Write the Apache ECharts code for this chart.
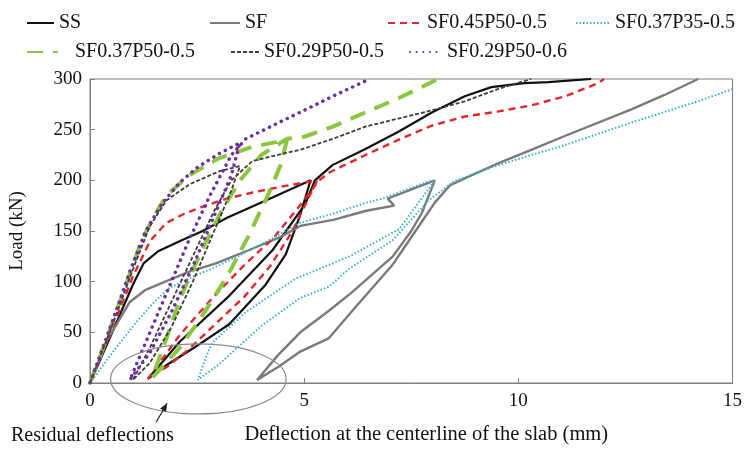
<!DOCTYPE html>
<html>
<head>
<meta charset="utf-8">
<script src="https://cdn.jsdelivr.net/npm/echarts@6/dist/echarts.min.js"></script>
<style>
  html, body { margin: 0; padding: 0; background: #fff; }
  #chart { width: 745px; height: 450px; }
</style>
</head>
<body>
<div id="chart"></div>
<script>
// deflection (mm), load (kN) pairs
const ssCurve = [
  [0, 0], [0.5, 48], [1.0, 97], [1.25, 118], [1.59, 130], [2.09, 140], [2.63, 150], [3.2, 163], [4.26, 183], [5.15, 200],
  [4.9, 165], [4.57, 127], [4.1, 97], [3.25, 58], [2.4, 34], [1.8, 18], [1.35, 4],
  [2.1, 41], [3.25, 86], [4.26, 131], [5.03, 177], [5.25, 200],
  [5.66, 215], [6.43, 231], [7.2, 248], [7.98, 267], [8.75, 283], [9.37, 292], [10.14, 296], [10.7, 297], [11.7, 300]
]
const sfCurve = [
  [0, 0], [0.4, 42], [0.93, 80], [1.3, 92], [1.7, 99], [2.32, 110], [2.94, 118], [3.7, 131], [4.44, 144], [4.91, 155],
  [5.68, 161], [6.45, 170], [7.1, 175], [6.95, 182], [8.05, 200],
  [7.75, 168], [7.5, 150], [7.07, 125], [6.1, 89], [5.57, 71], [4.91, 50], [4.4, 28], [3.9, 3],
  [4.4, 16], [4.91, 31], [5.57, 44], [6.14, 72], [7.07, 117], [7.6, 150], [8.05, 178], [8.4, 195], [8.8, 203],
  [9.54, 217], [10.3, 230], [11.1, 244], [12.64, 270], [13.4, 284], [14.2, 300]
]
const sf045Curve = [
  [0, 0], [0.5, 52], [1.0, 105], [1.4, 140], [1.78, 158], [2.2, 167], [2.63, 174], [3.2, 182], [3.8, 188], [4.5, 194], [5.3, 200],
  [5.05, 178], [4.7, 148], [4.2, 115], [3.6, 85], [2.9, 57], [2.3, 33], [1.8, 16], [1.35, 4],
  [2.09, 47], [2.86, 84], [3.64, 118], [4.26, 142], [4.88, 174], [5.35, 200],
  [5.6, 208], [6.43, 225], [7.2, 240], [7.98, 254], [8.75, 263], [9.54, 268], [10.3, 274], [11.1, 283], [11.87, 296], [12.0, 300]
]
const sf037p35Curve = [
  [0, 0], [0.54, 31], [1.08, 60], [1.5, 80], [1.86, 94], [2.4, 105], [2.86, 113], [3.5, 126], [4.1, 139], [4.9, 158],
  [5.67, 167], [6.45, 178], [6.83, 182], [7.84, 198], [8.05, 200],
  [7.22, 152], [6.06, 125], [4.8, 103], [3.64, 70], [2.86, 40], [2.7, 25], [2.52, 3],
  [3.0, 18], [4.02, 57], [4.91, 84], [5.57, 95], [6.06, 113], [7.07, 141], [7.9, 180], [8.5, 199], [9.0, 207],
  [9.54, 215], [10.3, 225], [11.1, 235], [12.64, 257], [14.19, 278], [15, 290]
]
const sf037p50Curve = [
  [0, 0], [0.4, 45], [0.8, 92], [1.2, 140], [1.5, 165], [1.78, 185], [2.32, 205], [3.02, 222], [3.79, 233], [4.6, 240],
  [4.45, 215], [4.15, 185], [3.7, 145], [3.2, 105], [2.6, 65], [2.1, 35], [1.45, 5],
  [1.75, 40], [2.15, 88], [2.6, 130], [3.05, 168], [3.5, 200], [4.0, 225], [4.6, 241],
  [5.0, 243], [5.67, 253], [6.43, 267], [7.2, 281], [8.13, 300]
]
const sf029p50Curve = [
  [0, 0], [0.5, 55], [1.0, 112], [1.4, 155], [1.78, 180], [2.32, 196], [3.02, 209], [3.5, 214],
  [3.3, 190], [2.9, 150], [2.4, 100], [1.9, 55], [1.4, 20], [1.0, 3],
  [1.4, 35], [1.9, 80], [2.4, 125], [2.9, 170], [3.3, 200], [3.79, 219], [4.57, 227], [4.9, 230],
  [5.67, 241], [6.43, 253], [7.2, 261], [7.98, 269], [8.75, 278], [9.52, 290], [10.14, 298], [10.3, 300]
]
const sf029p60Curve = [
  [0, 0], [0.5, 58], [0.93, 110], [1.3, 150], [1.7, 178], [2.1, 198], [2.48, 212], [3.0, 226], [3.5, 237],
  [3.3, 205], [2.9, 165], [2.4, 115], [1.9, 70], [1.4, 30], [0.93, 3],
  [1.3, 40], [1.8, 90], [2.3, 140], [2.8, 185], [3.3, 225], [3.64, 241], [4.41, 257], [5.19, 273],
  [5.67, 283], [6.43, 298], [6.5, 300]
]

const xTicks = [0, 5, 10, 15]
const yTicks = [0, 50, 100, 150, 200, 250, 300]

// annotation: ellipse round the residual points, in data units
const residualCenter = [2.53, 4]
const residualHalfWidth = 2.05
const residualArrowTip = [1.8, -20]

const FONT = '"Liberation Serif", "DejaVu Serif", serif'

const chart = echarts.init(document.getElementById('chart'))

const mkSeries = (name, data, color, width, type, cap) => ({
  name,
  type: 'line',
  data,
  symbol: 'none',
  smooth: false,
  animation: false,
  lineStyle: { color, width, type, cap: cap || 'butt' },
  itemStyle: { color }
})

const series = [
  mkSeries('SS', ssCurve, '#111111', 2.2, 'solid'),
  mkSeries('SF', sfCurve, '#7a7a7a', 2.4, 'solid'),
  mkSeries('SF0.45P50-0.5', sf045Curve, '#e2262c', 2.4, [7, 5]),
  mkSeries('SF0.37P35-0.5', sf037p35Curve, '#35b2d0', 2, [1.5, 2]),
  mkSeries('SF0.37P50-0.5', sf037p50Curve, '#8cc63f', 4, [16, 10]),
  mkSeries('SF0.29P50-0.5', sf029p50Curve, '#3c3c3c', 1.8, [4, 2]),
  mkSeries('SF0.29P50-0.6', sf029p60Curve, '#6b2f9f', 3.5, [0.1, 6.5], 'round')
]

// name, left, top, icon width, extra gap before the text
const legendPos = [
  ['SS', 26, 13, 27, 0],
  ['SF', 209, 13, 30, 0],
  ['SF0.45P50-0.5', 387, 13, 32, 2],
  ['SF0.37P35-0.5', 575, 13, 34, 0],
  ['SF0.37P50-0.5', 26, 42, 31, 12],
  ['SF0.29P50-0.5', 230, 42, 28, 0],
  ['SF0.29P50-0.6', 409, 42, 30, 2]
]

chart.setOption({
  backgroundColor: '#ffffff',
  animation: false,
  grid: {
    left: 89, right: 10, top: 79, bottom: 64,
    show: true, borderColor: '#7f7f7f', borderWidth: 1
  },
  legend: legendPos.map(([name, left, top, w, gap]) => ({
    data: [name],
    left, top,
    itemWidth: w,
    itemHeight: 14,
    itemGap: 0,
    padding: 0,
    itemStyle: { opacity: 0 },
    textStyle: { fontFamily: FONT, fontSize: 20, color: '#111', padding: [0, 0, 0, gap] }
  })),
  xAxis: {
    type: 'value',
    min: 0, max: 15, interval: 5,
    name: 'Deflection at the centerline of the slab (mm)',
    nameLocation: 'middle',
    nameGap: 41,
    nameTextStyle: { fontFamily: FONT, fontSize: 20.5, color: '#111', padding: [0, 0, 0, 30] },
    axisLine: { lineStyle: { color: '#7f7f7f', width: 1 } },
    axisTick: { inside: true, length: 5, lineStyle: { color: '#7f7f7f' } },
    axisLabel: {
      fontFamily: FONT, fontSize: 19, color: '#111', margin: 9,
      formatter: v => xTicks.includes(v) ? String(v) : ''
    },
    splitLine: { show: false }
  },
  yAxis: {
    type: 'value',
    min: 0, max: 300, interval: 50,
    name: 'Load (kN)',
    nameLocation: 'middle',
    nameGap: 63,
    nameRotate: 90,
    nameTextStyle: { fontFamily: FONT, fontSize: 19, color: '#111' },
    axisLine: { show: true, lineStyle: { color: '#7f7f7f', width: 1 } },
    axisTick: { show: true, inside: true, length: 5, lineStyle: { color: '#7f7f7f' } },
    axisLabel: {
      fontFamily: FONT, fontSize: 19, color: '#111', margin: 8,
      formatter: v => yTicks.includes(v) ? String(v) : ''
    },
    splitLine: { show: false }
  },
  series
})

// ellipse + arrow placed through the axes
const c = chart.convertToPixel({ gridIndex: 0 }, residualCenter)
const edge = chart.convertToPixel({ gridIndex: 0 }, [residualCenter[0] + residualHalfWidth, residualCenter[1]])
const tip = chart.convertToPixel({ gridIndex: 0 }, residualArrowTip)
const rx = edge[0] - c[0]
const ry = 35
const tail = [tip[0] - 11, tip[1] + 19]
const ang = Math.atan2(tip[1] - tail[1], tip[0] - tail[0])
const hl = 8, hw = 3.5
const head = [
  tip,
  [tip[0] - hl * Math.cos(ang) + hw * Math.sin(ang), tip[1] - hl * Math.sin(ang) - hw * Math.cos(ang)],
  [tip[0] - hl * Math.cos(ang) - hw * Math.sin(ang), tip[1] - hl * Math.sin(ang) + hw * Math.cos(ang)]
]

chart.setOption({
  graphic: [
    {
      type: 'ellipse',
      shape: { cx: c[0], cy: c[1], rx, ry },
      style: { fill: 'none', stroke: '#8a8a8a', lineWidth: 1.2 },
      z: 100
    },
    {
      type: 'line',
      shape: { x1: tail[0], y1: tail[1], x2: tip[0], y2: tip[1] },
      style: { stroke: '#222', lineWidth: 1.2 },
      z: 100
    },
    {
      type: 'polygon',
      shape: { points: head },
      style: { fill: '#222' },
      z: 100
    },
    {
      type: 'text',
      left: 11,
      top: 426,
      style: { text: 'Residual deflections', font: '20px ' + FONT, fill: '#111' },
      z: 100
    }
  ]
})
</script>
</body>
</html>
